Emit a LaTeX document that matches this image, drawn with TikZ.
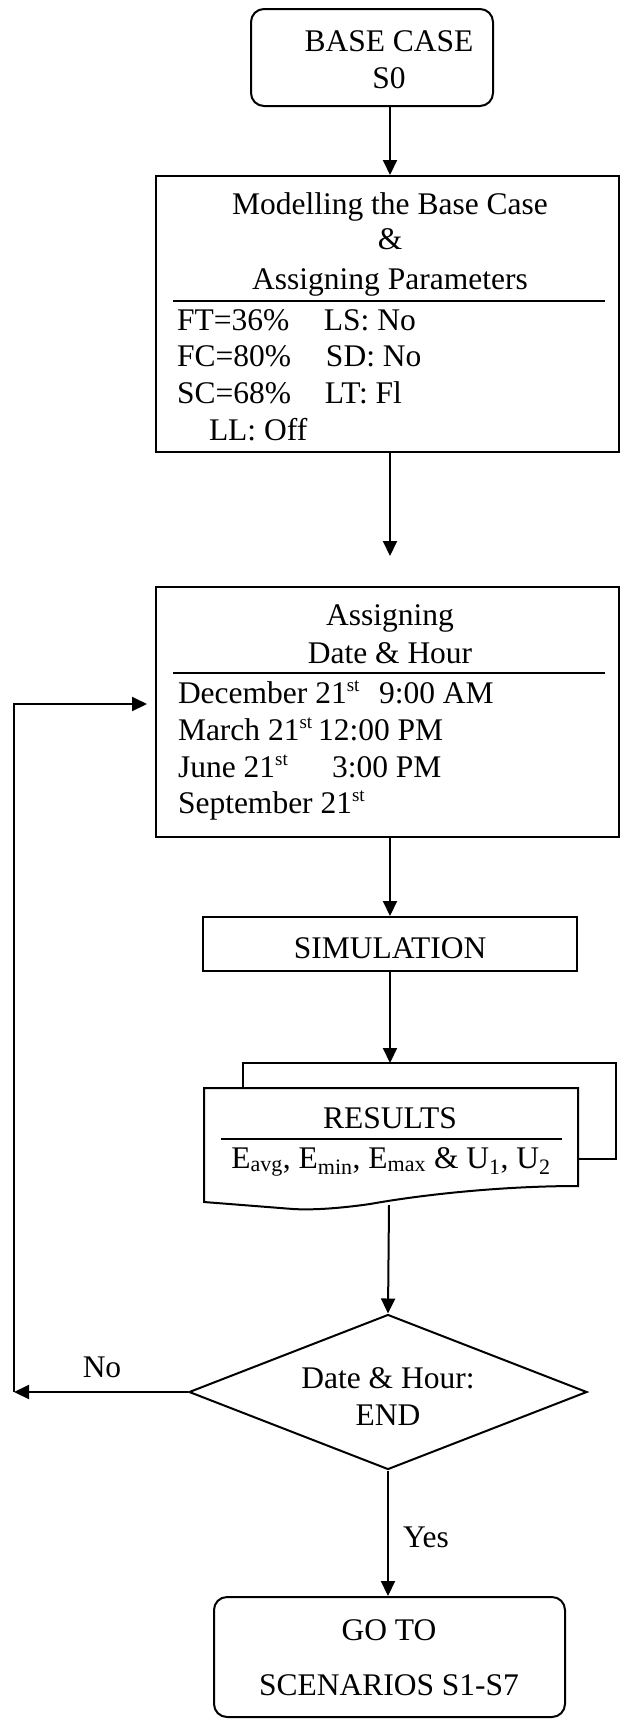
\documentclass[tikz,border=0pt]{standalone}
\usepackage{fontspec}
\setmainfont{Liberation Serif}
\usetikzlibrary{arrows.meta,shapes.geometric}
\newcommand\chartfont{\fontsize{31.5}{37}\selectfont}
% small raised ordinal suffix
\newcommand\ordsup[1]{\raisebox{12pt}{\fontsize{19}{19}\selectfont #1}}
\begin{document}
\begin{tikzpicture}[x=1pt,y=-1pt,
  line width=2pt,
  every node/.style={font=\chartfont},
  box/.style={draw, rectangle, inner sep=0pt, line width=2pt},
  rbox/.style={box, rounded corners=13pt},
  txt/.style={anchor=base, inner sep=0pt},
  ltxt/.style={anchor=base west, inner sep=0pt},
  arr/.style={-{Triangle[length=15pt,width=14pt]}, line width=2pt},
]
\fill[white] (0,0) rectangle (621,1719);
\useasboundingbox (0,0) rectangle (621,1719);

% vertical axis of the main flow
\coordinate (spine) at (390,0);

% start
\node[rbox, minimum width=242pt, minimum height=97pt] (start) at (372,57.5) {};
\node[txt] (startA) at (389,51) {BASE CASE};
\node[txt] (startB) at (389,88) {S0};

% base case model and parameters
\node[box, minimum width=463pt, minimum height=276pt] (model) at (387.5,314) {};
\node[txt] (m1) at (390,214) {Modelling the Base Case};
\node[txt] (m2) at (390,249) {\&};
\node[txt] (m3) at (390,289) {Assigning Parameters};
\draw (173,301) -- (605,301);
\node[ltxt] (p1) at (176,330) {\makebox[147pt][l]{FT=36\%}LS: No};
\node[ltxt] (p2) at (176,366) {\makebox[149pt][l]{FC=80\%}SD: No};
\node[ltxt] (p3) at (176,403) {\makebox[148pt][l]{SC=68\%}LT: Fl};
\node[ltxt] (p4) at (208,440) {LL: Off};

% date and hour
\node[box, minimum width=463pt, minimum height=250pt] (dates) at (387.5,712) {};
\node[txt] (d1) at (390,625) {Assigning};
\node[txt] (d2) at (390,663) {Date \& Hour};
\draw (173,673) -- (605,673);
\node[ltxt] (d3) at (177,703) {\makebox[201pt][l]{December 21\ordsup{st}}9:00 AM};
\node[ltxt] (d4) at (177,740) {\makebox[140pt][l]{March 21\ordsup{st}}12:00 PM};
\node[ltxt] (d5) at (177,777) {\makebox[154pt][l]{June 21\ordsup{st}}3:00 PM};
\node[ltxt] (d6) at (177,813) {September 21\ordsup{st}};

% simulation
\node[box, minimum width=374pt, minimum height=54pt] (sim) at (390,944) {};
\node[txt] (simt) at (390,958) {SIMULATION};

% results (multi-document)
\draw (243,1088) -- (243,1063) -- (616,1063) -- (616,1159) -- (578,1159);
\draw (204,1088) -- (578,1088) -- (578,1186)
  .. controls (500,1186) and (420,1195) .. (370,1204)
  .. controls (335,1209) and (310,1210) .. (293,1209)
  -- (204,1202) -- cycle;
\coordinate (restop) at (390,1063);
\coordinate (resbot) at (389,1205);
\node[txt] (r1) at (390,1128) {RESULTS};
\draw (221,1139) -- (562,1139);
\node[txt] (r2) at (391,1168) {E\textsubscript{avg}, E\textsubscript{min}, E\textsubscript{max} \& U\textsubscript{1}, U\textsubscript{2}};

% decision
\node[diamond, draw, inner sep=0pt, aspect=2.57, minimum width=398pt, minimum height=155pt] (check) at (388,1392) {};
\node[txt] (c1) at (388,1388) {Date \& Hour:};
\node[txt] (c2) at (388,1425) {END};

% end
\node[rbox, minimum width=351pt, minimum height=120pt] (goto) at (389.5,1657) {};
\node[txt] (g1) at (389,1640) {GO TO};
\node[txt] (g2) at (389,1695) {SCENARIOS S1-S7};

% connectors
\coordinate (gapend) at (390,556);
\draw[arr] (start.south -| spine) -- (model.north -| spine);
\draw[arr] (model.south -| spine) -- (gapend);
\draw[arr] (dates.south -| spine) -- (sim.north -| spine);
\draw[arr] (sim.south -| spine) -- (restop);
\draw[arr] (resbot) -- (check.north);
\draw[arr] (check.south) -- (goto.north -| check.south);
\node[ltxt] (yes) at (402,1547) {Yes};

\coordinate (loopcorner) at (14,1392);
\coordinate (loopend) at (147,704);
\draw[arr] (check.west) -- (loopcorner);
\draw[arr] (loopcorner) -- (loopcorner |- loopend) -- (loopend);
\node[txt] (no) at (102,1377) {No};
\end{tikzpicture}
\end{document}
